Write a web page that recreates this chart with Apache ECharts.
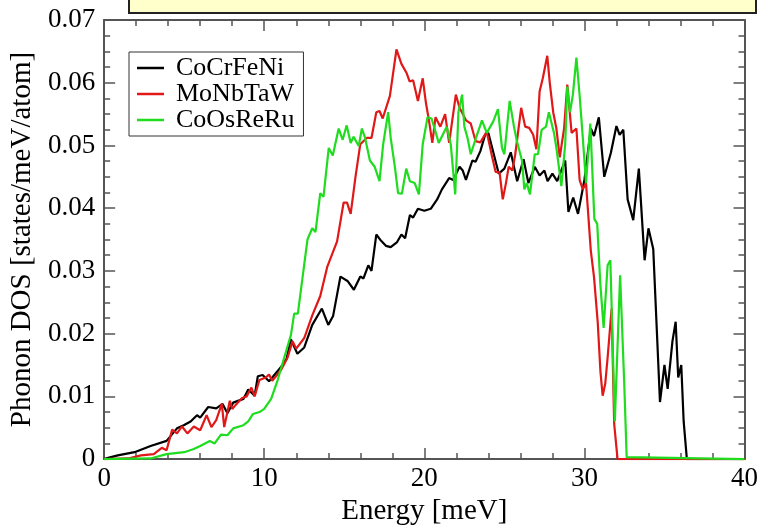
<!DOCTYPE html>
<html>
<head>
<meta charset="utf-8">
<title>Phonon DOS</title>
<script src="https://cdn.jsdelivr.net/npm/echarts@6/dist/echarts.min.js"></script>
<style>
  html, body { margin: 0; padding: 0; background: #ffffff; }
  #chart { width: 761px; height: 531px; }
</style>
</head>
<body>
<div id="chart"></div>
<script>
// Phonon density of states of three high-entropy alloys
const seriesNames = ['CoCrFeNi', 'MoNbTaW', 'CoOsReRu'];

// Energy axis ticks (meV) and DOS axis ticks (states/meV/atom)
const energyTicks = [0, 10, 20, 30, 40];
const dosTicks = [0, 0.01, 0.02, 0.03, 0.04, 0.05, 0.06, 0.07];

// CoCrFeNi
const cocrfeniEnergy = [0, 0.25, 0.85, 1.9, 2.9, 3.9, 4.55, 4.97, 5.4, 5.8, 6.0, 6.5, 7.0, 7.4, 7.7, 8.06, 8.7, 9.0, 9.4, 9.6, 9.9, 10.3, 10.5, 11.05, 11.4, 11.66, 12.07, 12.5, 13.0, 13.6, 14.0, 14.3, 14.76, 15.2, 15.6, 16.0, 16.2, 16.5, 16.7, 17.0, 17.3, 17.6, 17.9, 18.3, 18.57, 18.8, 19.1, 19.3, 19.6, 20.0, 20.4, 20.8, 21.1, 21.55, 21.8, 22.2, 22.4, 22.6, 23.0, 23.2, 23.5, 23.8, 24.0, 24.3, 24.65, 25.0, 25.4, 25.8, 26.2, 26.5, 26.9, 27.2, 27.5, 27.7, 28.0, 28.3, 28.8, 29.0, 29.3, 29.6, 30.0, 30.4, 30.6, 30.9, 31.24, 31.65, 32.0, 32.2, 32.43, 32.7, 33.05, 33.4, 33.76, 34.0, 34.3, 34.72, 35.0, 35.2, 35.5, 35.7, 35.86, 36.05, 36.2, 36.4, 40];
const cocrfeniDos = [0, 0.0002, 0.0006, 0.0011, 0.0021, 0.0029, 0.0049, 0.0054, 0.0060, 0.0070, 0.0066, 0.0083, 0.0081, 0.0088, 0.0073, 0.0090, 0.0096, 0.0111, 0.0101, 0.0132, 0.0134, 0.0124, 0.0130, 0.0147, 0.0160, 0.0191, 0.0168, 0.0178, 0.0214, 0.0240, 0.0214, 0.0228, 0.0291, 0.0284, 0.0270, 0.0291, 0.0288, 0.0309, 0.0300, 0.0358, 0.0348, 0.0340, 0.0338, 0.0346, 0.0358, 0.0352, 0.0389, 0.0385, 0.0399, 0.0396, 0.0399, 0.0414, 0.0430, 0.0448, 0.0445, 0.0466, 0.0460, 0.0445, 0.0476, 0.0474, 0.0491, 0.0517, 0.0520, 0.0490, 0.0455, 0.0463, 0.0489, 0.0443, 0.0478, 0.0440, 0.0466, 0.0452, 0.0460, 0.0443, 0.0455, 0.0443, 0.0476, 0.0394, 0.0417, 0.0391, 0.0445, 0.0527, 0.0515, 0.0545, 0.0450, 0.0488, 0.0531, 0.0517, 0.0525, 0.0414, 0.0381, 0.0463, 0.0317, 0.0368, 0.0335, 0.0091, 0.0150, 0.0112, 0.0188, 0.0219, 0.0130, 0.0150, 0.0060, 0, 0];

// MoNbTaW
const monbtawEnergy = [0, 1.5, 2.3, 3.1, 3.6, 3.9, 4.25, 4.55, 4.86, 5.2, 5.6, 6.0, 6.2, 6.4, 6.7, 7.0, 7.35, 7.5, 7.85, 8.0, 8.2, 8.6, 8.9, 9.2, 9.4, 9.7, 10.1, 10.3, 10.5, 11.05, 11.46, 11.77, 12.0, 12.5, 13.0, 13.5, 13.93, 14.55, 14.96, 15.17, 15.4, 15.7, 16.0, 16.4, 16.7, 17.0, 17.2, 17.4, 17.85, 18.26, 18.57, 18.9, 19.08, 19.3, 19.6, 19.9, 20.1, 20.3, 20.5, 20.7, 21.0, 21.3, 21.55, 21.97, 22.2, 22.6, 22.9, 23.2, 23.5, 23.9, 24.2, 24.45, 24.7, 24.9, 25.1, 25.27, 25.5, 25.68, 26.05, 26.3, 26.55, 26.8, 27.0, 27.2, 27.4, 27.68, 27.84, 28.05, 28.25, 28.46, 28.73, 28.93, 29.2, 29.5, 29.7, 29.9, 30.1, 30.4, 30.6, 30.83, 31.0, 31.14, 31.3, 31.45, 31.7, 31.86, 32.07, 40];
const monbtawDos = [0, 0.0001, 0.0006, 0.0008, 0.0018, 0.0014, 0.0047, 0.0041, 0.0052, 0.0041, 0.0052, 0.0046, 0.0058, 0.0070, 0.0051, 0.0062, 0.0088, 0.0051, 0.0093, 0.0080, 0.0086, 0.0097, 0.0100, 0.0114, 0.0100, 0.0126, 0.0130, 0.0135, 0.0125, 0.0142, 0.0162, 0.0188, 0.0176, 0.0193, 0.0229, 0.0260, 0.0306, 0.0347, 0.0409, 0.0409, 0.0391, 0.0450, 0.0502, 0.0512, 0.0512, 0.0553, 0.0555, 0.0543, 0.0579, 0.0653, 0.0630, 0.0615, 0.0602, 0.0604, 0.0571, 0.0607, 0.0568, 0.0538, 0.0504, 0.0545, 0.0530, 0.0550, 0.0504, 0.0581, 0.0560, 0.0540, 0.0535, 0.0507, 0.0505, 0.0522, 0.0486, 0.0458, 0.0457, 0.0414, 0.0440, 0.0466, 0.0460, 0.0486, 0.0560, 0.0530, 0.0528, 0.0517, 0.0494, 0.0586, 0.0607, 0.0643, 0.0599, 0.0553, 0.0527, 0.0481, 0.0527, 0.0597, 0.0520, 0.0527, 0.0445, 0.0430, 0.0440, 0.0332, 0.0290, 0.0219, 0.0140, 0.0101, 0.0120, 0.0162, 0.0240, 0.0056, 0, 0];

// CoOsReRu
const coosreruEnergy = [0, 2.9, 3.9, 5.0, 5.6, 6.0, 6.6, 6.9, 7.3, 7.7, 8.06, 8.7, 9.0, 9.3, 9.7, 10.0, 10.43, 10.84, 11.25, 11.67, 11.87, 12.1, 12.4, 12.7, 13.0, 13.2, 13.5, 13.7, 14.03, 14.28, 14.65, 14.9, 15.15, 15.4, 15.58, 15.9, 16.1, 16.3, 16.6, 16.9, 17.2, 17.43, 17.74, 17.9, 18.16, 18.36, 18.6, 18.87, 19.1, 19.4, 19.66, 19.9, 20.2, 20.45, 20.7, 20.9, 21.15, 21.4, 21.65, 21.93, 22.13, 22.36, 22.5, 22.7, 22.9, 23.2, 23.6, 23.9, 24.3, 24.6, 24.85, 25.0, 25.33, 25.6, 25.78, 26.1, 26.25, 26.4, 26.6, 26.9, 27.1, 27.33, 27.6, 27.78, 28.1, 28.25, 28.56, 28.8, 28.93, 29.1, 29.28, 29.5, 29.7, 29.9, 30.1, 30.37, 30.62, 30.8, 30.99, 31.2, 31.45, 31.62, 31.9, 32.23, 32.48, 32.64, 32.7, 40];
const coosreruDos = [0, 0.0001, 0.0008, 0.0011, 0.0016, 0.0021, 0.0029, 0.0025, 0.0039, 0.0038, 0.0049, 0.0054, 0.0060, 0.0072, 0.0075, 0.0080, 0.0096, 0.0126, 0.0162, 0.0198, 0.0232, 0.0232, 0.0291, 0.0350, 0.0368, 0.0362, 0.0424, 0.0418, 0.0496, 0.0484, 0.0527, 0.0509, 0.0532, 0.0504, 0.0514, 0.0499, 0.0527, 0.0512, 0.0476, 0.0466, 0.0443, 0.0502, 0.0553, 0.0512, 0.0466, 0.0424, 0.0423, 0.0463, 0.0443, 0.0440, 0.0422, 0.0502, 0.0545, 0.0543, 0.0522, 0.0504, 0.0517, 0.0530, 0.0502, 0.0422, 0.0553, 0.0581, 0.0530, 0.0512, 0.0486, 0.0510, 0.0540, 0.0520, 0.0538, 0.0558, 0.0496, 0.0486, 0.0571, 0.0530, 0.0507, 0.0476, 0.0430, 0.0440, 0.0422, 0.0486, 0.0486, 0.0525, 0.0530, 0.0553, 0.0520, 0.0496, 0.0435, 0.0502, 0.0594, 0.0553, 0.0581, 0.0640, 0.0580, 0.0512, 0.0440, 0.0535, 0.0383, 0.0375, 0.0281, 0.0209, 0.0309, 0.0317, 0.0060, 0.0293, 0.0126, 0.0003, 0, 0];

const seriesColors = ['#000000', '#e01818', '#1fdc1f'];

function pairs(xs, ys) {
  return xs.map((x, i) => [x, ys[i]]);
}

const serifFont = '"Liberation Serif", "DejaVu Serif", serif';
const frameColor = '#555555';

const xMin = energyTicks[0];
const xMax = energyTicks[energyTicks.length - 1];
const xStep = energyTicks[1] - energyTicks[0];
const yMin = dosTicks[0];
const yMax = dosTicks[dosTicks.length - 1];
const yStep = dosTicks[1] - dosTicks[0];

function xAxisDef(position, showLabels) {
  return {
    type: 'value', position: position, min: xMin, max: xMax, interval: xStep,
    name: showLabels ? 'Energy [meV]' : '',
    nameLocation: 'middle', nameGap: 31,
    nameTextStyle: { fontFamily: serifFont, fontSize: 29, color: '#000' },
    axisLine: { show: true, onZero: false, lineStyle: { color: frameColor, width: 2 } },
    axisTick: { show: true, inside: true, length: 11, lineStyle: { color: frameColor, width: 1.5 } },
    minorTick: { show: true, splitNumber: 5, length: 6, lineStyle: { color: frameColor, width: 1.5 } },
    axisLabel: {
      show: showLabels, margin: 6, fontFamily: serifFont, fontSize: 27, color: '#000',
      formatter: v => String(v)
    },
    splitLine: { show: false }
  };
}

function yAxisDef(position, showLabels) {
  return {
    type: 'value', position: position, min: yMin, max: yMax, interval: yStep,
    name: showLabels ? 'Phonon DOS [states/meV/atom]' : '',
    nameLocation: 'middle', nameGap: 59, nameRotate: 90,
    nameTextStyle: { fontFamily: serifFont, fontSize: 29, color: '#000' },
    axisLine: { show: true, onZero: false, lineStyle: { color: frameColor, width: 2 } },
    axisTick: { show: true, inside: true, length: 11, lineStyle: { color: frameColor, width: 1.5 } },
    minorTick: { show: true, splitNumber: 4, length: 6, lineStyle: { color: frameColor, width: 1.5 } },
    axisLabel: {
      show: showLabels, margin: 9, fontFamily: serifFont, fontSize: 27, color: '#000',
      formatter: v => (v === 0 ? '0' : v.toFixed(2))
    },
    splitLine: { show: false }
  };
}

const dataSets = [
  pairs(cocrfeniEnergy, cocrfeniDos),
  pairs(monbtawEnergy, monbtawDos),
  pairs(coosreruEnergy, coosreruDos)
];

const chart = echarts.init(document.getElementById('chart'), null, { renderer: 'canvas' });

chart.setOption({
  animation: false,
  backgroundColor: '#ffffff',
  grid: { left: 97, top: 20, right: 14, bottom: 58, containLabel: false },
  xAxis: [xAxisDef('bottom', true), xAxisDef('top', false)],
  yAxis: [yAxisDef('left', true), yAxisDef('right', false)],
  legend: {
    orient: 'vertical',
    left: 129, top: 52,
    data: seriesNames.map(n => ({ name: n, icon: 'rect' })),
    itemWidth: 27, itemHeight: 2.5, itemGap: 0,
    padding: [3, 9, 3, 8],
    borderColor: '#333333', borderWidth: 1,
    backgroundColor: '#ffffff',
    textStyle: { fontFamily: serifFont, fontSize: 26, color: '#000', lineHeight: 24, padding: [0, 0, 0, 7] }
  },
  graphic: [{
    type: 'rect',
    shape: { x: 129, y: -6, width: 627, height: 19 },
    style: { fill: '#ffffcc', stroke: '#222222', lineWidth: 2 },
    z: 10
  }],
  series: seriesNames.map((name, i) => ({
    name: name,
    type: 'line',
    xAxisIndex: 0, yAxisIndex: 0,
    data: dataSets[i],
    symbol: 'none',
    smooth: false,
    lineStyle: { color: seriesColors[i], width: 2.2 },
    itemStyle: { color: seriesColors[i] },
    z: 2 + i
  }))
});
</script>
</body>
</html>
